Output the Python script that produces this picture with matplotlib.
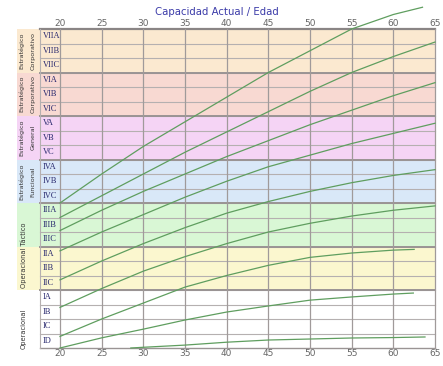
import numpy as np
import matplotlib
matplotlib.use('Agg')
import matplotlib.pyplot as plt
from matplotlib.patches import Rectangle
plt.rcParams.update({'font.size': 7, 'font.family': 'DejaVu Sans'})

# rows from top to bottom
row_labels = ['VIIA', 'VIIB', 'VIIC', 'VIA', 'VIB', 'VIC', 'VA', 'VB', 'VC',
              'IVA', 'IVB', 'IVC', 'IIIA', 'IIIB', 'IIIC', 'IIA', 'IIB', 'IIC',
              'IA', 'IB', 'IC', 'ID']
# groups from top to bottom: number of rows and colour
group_sizes = [3, 3, 3, 3, 3, 3, 4]
group_colors = ['#fbe9d0', '#f8d9d2', '#f5d4f5', '#d9e8f8', '#d9f7d5', '#fbf7cf', '#ffffff']
group_labels = [('Estratégico', 'Corporativo'), ('Estratégico', 'Corporativo'),
                ('Estratégico', 'General'), ('Estratégico', 'Funcional'),
                None, None, None]
ticks = [20, 25, 30, 35, 40, 45, 50, 55, 60, 65]

# curves, y measured in rows from the bottom (ID row = 0..1)
ax_A = [20, 25, 30, 35, 40, 45, 50, 55, 60, 63.5]
ay_A = [10.0, 12.0, 13.9, 15.6, 17.3, 19.0, 20.5, 22.0, 23.0, 23.5]
ax_B = [20, 25, 30, 35, 40, 45, 50, 55, 60, 65]
ay_B = [9.0, 10.5, 12.0, 13.5, 14.9, 16.3, 17.7, 19.0, 20.1, 21.1]
ax_C = [20, 25, 30, 35, 40, 45, 50, 55, 60, 65]
ay_C = [8.1, 9.5, 10.8, 12.0, 13.2, 14.3, 15.4, 16.4, 17.4, 18.3]
ax_D = [20, 25, 30, 35, 40, 45, 50, 55, 60, 65]
ay_D = [6.7, 8.0, 9.2, 10.4, 11.5, 12.5, 13.3, 14.1, 14.8, 15.5]
ax_E = [20, 25, 30, 35, 40, 45, 50, 55, 60, 65]
ay_E = [4.7, 6.0, 7.2, 8.3, 9.3, 10.1, 10.8, 11.4, 11.9, 12.3]
ax_F = [20, 25, 30, 35, 40, 45, 50, 55, 60, 65]
ay_F = [2.8, 4.1, 5.3, 6.3, 7.2, 8.0, 8.6, 9.1, 9.5, 9.8]
ax_G = [20, 25, 30, 35, 40, 45, 50, 55, 60, 62.5]
ay_G = [0.8, 2.0, 3.1, 4.2, 5.0, 5.7, 6.25, 6.55, 6.75, 6.8]
ax_H = [20, 25, 30, 35, 40, 45, 50, 55, 60, 62.4]
ay_H = [0.0, 0.7, 1.3, 1.93, 2.48, 2.9, 3.3, 3.52, 3.72, 3.79]
ax_I = [28.5, 30, 35, 40, 45, 50, 55, 60, 63.8]
ay_I = [0.0, 0.05, 0.2, 0.4, 0.55, 0.62, 0.69, 0.72, 0.76]

curves = [(ax_A, ay_A), (ax_B, ay_B), (ax_C, ay_C), (ax_D, ay_D), (ax_E, ay_E),
          (ax_F, ay_F), (ax_G, ay_G), (ax_H, ay_H), (ax_I, ay_I)]


def main():
    fig = plt.figure(figsize=(4.43, 3.66), dpi=100)
    fig.patch.set_facecolor('white')
    ax = fig.add_axes([60 / 443, 18 / 366, 375 / 443, 319 / 366])
    ax.set_xlim(20, 65)
    ax.set_ylim(0, 22)
    n = len(row_labels)

    xlab0 = 14.85   # start of group label column
    xlab1 = 17.6    # start of row label column

    # group backgrounds
    top = n
    for size, col in zip(group_sizes, group_colors):
        ax.add_patch(Rectangle((xlab0, top - size), 65 - xlab0, size,
                               facecolor=col, edgecolor='none', clip_on=False, zorder=0))
        top -= size

    # row lines
    for k in range(1, n):
        ax.plot([xlab1, 65], [k, k], color='#b5b0b0', lw=0.8, clip_on=False, zorder=1)
    bounds = np.cumsum(group_sizes)
    for b in bounds[:-1]:
        ax.plot([xlab1, 65], [n - b, n - b], color='#9a9494', lw=1.4, clip_on=False, zorder=1)
    ax.plot([xlab1, 65], [n, n], color='#8a8585', lw=1.6, clip_on=False, zorder=1)
    ax.plot([xlab1, 65], [0, 0], color='#9a9494', lw=1.0, clip_on=False, zorder=1)
    ax.plot([xlab1, xlab1], [0, n], color='#b5b0b0', lw=0.8, clip_on=False, zorder=1)

    # vertical grid
    for t in ticks:
        ax.plot([t, t], [0, n], color='#a09a9a', lw=0.9, clip_on=False, zorder=1)

    # row labels
    for i, lab in enumerate(row_labels):
        ax.text(xlab1 + 0.3, n - i - 0.5, lab, ha='left', va='center',
                fontsize=6, family='Liberation Serif', color='#2b2b70', zorder=3)

    # group labels
    top = n
    for size, lab in zip(group_sizes, group_labels):
        if lab is not None:
            yc = top - size / 2
            ax.text(xlab0 + 0.6, yc, lab[0], rotation=90, ha='center', va='center',
                    fontsize=4.6, color='#333333', clip_on=False)
            ax.text(xlab0 + 1.9, yc, lab[1], rotation=90, ha='center', va='center',
                    fontsize=4.6, color='#333333', clip_on=False)
        top -= size
    ax.text(xlab0 + 0.8, 6.4, 'Operacional Táctico', rotation=90, ha='center',
            va='center', fontsize=4.8, color='#333333')
    ax.text(xlab0 + 0.8, 1.3, 'Operacional', rotation=90, ha='center',
            va='center', fontsize=4.8, color='#333333')

    # curves
    for xs, ys in curves:
        ax.plot(xs, ys, color='#5f9e5f', lw=0.9, clip_on=False, zorder=2)

    ax.set_xticks(ticks)
    ax.set_yticks([])
    ax.tick_params(axis='x', length=0, pad=1, labelsize=6.5, labelcolor='#666666',
                   top=True, labeltop=True, bottom=True, labelbottom=True)
    for s in ax.spines.values():
        s.set_visible(False)
    ax.patch.set_visible(False)

    fig.text(217 / 443, 1 - 12 / 366, 'Capacidad Actual / Edad', ha='center', va='center',
             fontsize=7.3, color='#3a3aa8')

    fig.savefig('out.png', dpi=100)


if __name__ == '__main__':
    main()
